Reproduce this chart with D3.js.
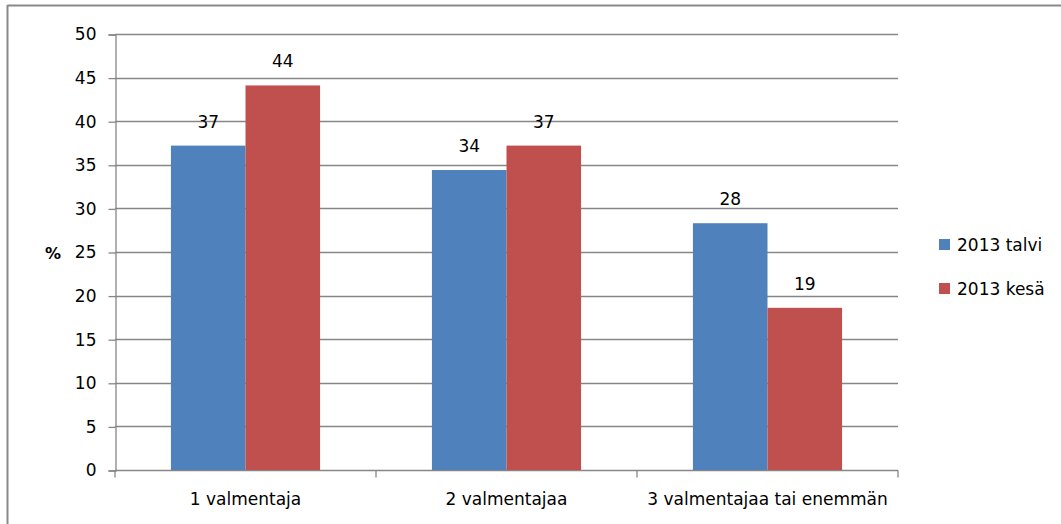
<!DOCTYPE html>
<html>
<head>
<meta charset="utf-8">
<script src="https://cdn.jsdelivr.net/npm/d3@7/dist/d3.min.js"></script>
<style>
  body { margin: 0; background: #fff; }
  svg text { font-family: "DejaVu Sans", sans-serif; }
</style>
</head>
<body>
<div id="chart"></div>
<script>
const categories = ["1 valmentaja", "2 valmentajaa", "3 valmentajaa tai enemmän"];
const seriesNames = ["2013 talvi", "2013 kesä"];
const talvi = [37.2, 34.4, 28.3];
const kesa = [44.1, 37.2, 18.6];
const yTicks = [0, 5, 10, 15, 20, 25, 30, 35, 40, 45, 50];
const colors = ["#4F81BD", "#C0504D"];

const w = 1061, h = 524;
const plotLeft = 115, plotRight = 898, plotTop = 34, plotBottom = 470;
const fs = 17;

const svg = d3.select("#chart").append("svg").attr("width", w).attr("height", h);

// outer frame (top and left edges visible)
svg.append("line").attr("x1", 7.5).attr("x2", w).attr("y1", 5.5).attr("y2", 5.5)
  .attr("stroke", "#898989").attr("stroke-width", 2);
svg.append("line").attr("x1", 7.5).attr("x2", 7.5).attr("y1", 5).attr("y2", h)
  .attr("stroke", "#898989").attr("stroke-width", 2);

const x = d3.scaleBand().domain(categories).range([plotLeft, plotRight]).paddingInner(0).paddingOuter(0);
const y = d3.scaleLinear().domain([0, 50]).range([plotBottom, plotTop]);

// gridlines
svg.append("g").selectAll("line").data(yTicks.filter(d => d > 0)).enter().append("line")
  .attr("x1", plotLeft).attr("x2", plotRight)
  .attr("y1", d => Math.round(y(d)) + 0.5).attr("y2", d => Math.round(y(d)) + 0.5)
  .attr("stroke", "#868686").attr("stroke-width", 1.3);

// y axis
const yAxis = svg.append("g").attr("transform", `translate(${plotLeft + 0.5},0.5)`)
  .call(d3.axisLeft(y).tickValues(yTicks).tickSize(7).tickPadding(12));
yAxis.select(".domain").attr("stroke", "#868686").attr("stroke-width", 1.3);
yAxis.selectAll(".tick line").attr("stroke", "#868686").attr("stroke-width", 1.3);
yAxis.selectAll(".tick text").attr("font-size", fs).attr("fill", "#000")
  .attr("font-family", "DejaVu Sans, sans-serif");

// x axis
const xAxis = svg.append("g").attr("transform", `translate(0,${plotBottom + 0.5})`);
xAxis.append("line").attr("x1", plotLeft).attr("x2", plotRight).attr("stroke", "#868686").attr("stroke-width", 1.3);
xAxis.selectAll(".xt").data(d3.range(categories.length + 1)).enter().append("line")
  .attr("x1", i => plotLeft + i * x.bandwidth()).attr("x2", i => plotLeft + i * x.bandwidth())
  .attr("y1", 0).attr("y2", 7).attr("stroke", "#868686").attr("stroke-width", 1.3);
xAxis.selectAll("text").data(categories).enter().append("text")
  .attr("x", d => x(d) + x.bandwidth() / 2).attr("y", 34)
  .attr("text-anchor", "middle").attr("font-size", fs).attr("fill", "#000")
  .text(d => d);

// bars
const x1 = d3.scaleBand().domain([0, 1]).range([0, x.bandwidth()]).paddingOuter(0.75).paddingInner(0);
const rows = categories.map((c, i) => [talvi[i], kesa[i]].map((v, s) => ({ c, v, s })));
const groups = svg.append("g").selectAll("g").data(rows).enter().append("g")
  .attr("transform", d => `translate(${x(d[0].c)},0)`);
groups.selectAll("rect").data(d => d).enter().append("rect")
  .attr("x", d => x1(d.s)).attr("width", x1.bandwidth())
  .attr("y", d => y(d.v)).attr("height", d => y(0) - y(d.v))
  .attr("fill", d => colors[d.s]);
groups.selectAll("text").data(d => d).enter().append("text")
  .attr("x", d => x1(d.s) + x1.bandwidth() / 2).attr("y", d => y(d.v) - 18)
  .attr("text-anchor", "middle").attr("font-size", fs).attr("fill", "#000")
  .text(d => Math.round(d.v));

// y title
svg.append("text").attr("x", 53).attr("y", 259).attr("text-anchor", "middle")
  .attr("font-size", 16).attr("font-weight", "bold").text("%");

// legend
const legend = svg.append("g").selectAll("g").data(seriesNames).enter().append("g")
  .attr("transform", (d, i) => `translate(939,${239 + i * 44})`);
legend.append("rect").attr("width", 11).attr("height", 11).attr("fill", (d, i) => colors[i]);
legend.append("text").attr("x", 18).attr("y", 12).attr("font-size", fs).attr("fill", "#000").text(d => d);
</script>
</body>
</html>
